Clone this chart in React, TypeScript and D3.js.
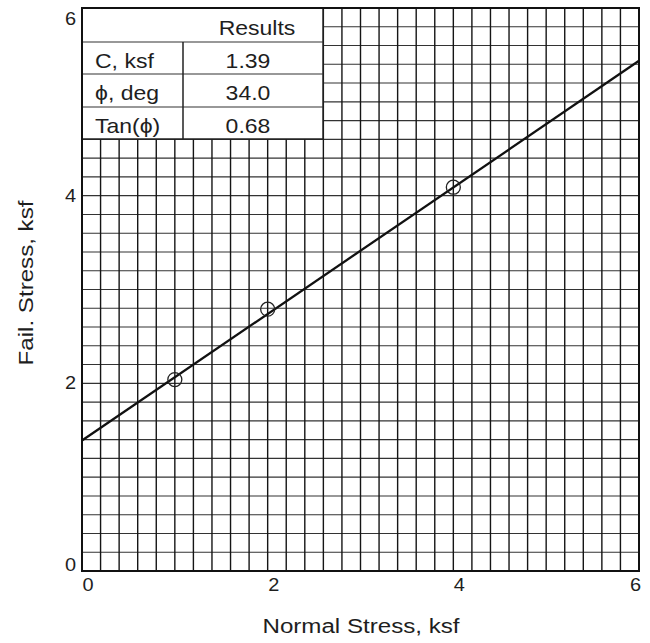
import React from "react";
import * as d3 from "d3";

const xTicks = [0, 2, 4, 6];
const yTicks = [0, 2, 4, 6];
const pointsX = [1, 2, 4];
const pointsY = [2.04, 2.79, 4.09];
const cohesion = 1.39;
const phiDeg = 34.0;
const tableHeader = "Results";
const tableLabels = ["C, ksf", "\u03D5, deg", "Tan(\u03D5)"];
const tableValues = ["1.39", "34.0", "0.68"];

const W = 650, H = 643;
const L = 82, R = 639, T = 8, B = 571;

function SText(props: { x: number; y: number; size: number; sx?: number; anchor?: string; rotate?: number; children: React.ReactNode }) {
  const { x, y, size, sx = 1.15, anchor = "start", rotate = 0, children } = props;
  return (
    <text
      transform={`translate(${x},${y}) rotate(${rotate}) scale(${sx},1)`}
      textAnchor={anchor}
      fontSize={size}
      fill="#1e1e1e"
    >
      {children}
    </text>
  );
}

export default function App() {
  const x = d3.scaleLinear().domain([0, 6]).range([L, R]);
  const y = d3.scaleLinear().domain([0, 6]).range([B, T]);
  const minor = d3.range(0, 31).map((i) => i * 0.2);
  const slope = Math.tan((phiDeg * Math.PI) / 180);
  const line = d3.line<number>().x((d) => x(d)).y((d) => y(cohesion + slope * d));
  const font = "Arial, 'Liberation Sans', Helvetica, sans-serif";
  const tl = L, tr = 323, tc = 183;
  const rowYs = [8, 42, 74, 107, 139];
  const baselines = [68, 100, 133];
  return (
    <svg width={W} height={H} style={{ position: "absolute", left: 0, top: 0, background: "#fff" }} fontFamily={font}>
      <rect x={0} y={0} width={W} height={H} fill="#fff" />
      {minor.map((v, i) => (
        <line key={"h" + i} x1={L} x2={R} y1={y(v)} y2={y(v)} stroke="#333" strokeWidth={1.1} />
      ))}
      {minor.map((v, i) => (
        <line key={"v" + i} x1={x(v)} x2={x(v)} y1={T} y2={B} stroke="#151515" strokeWidth={1.4} />
      ))}
      <path d={line([0, 6]) || ""} fill="none" stroke="#111" strokeWidth={2.3} />
      {pointsX.map((px, i) => (
        <circle key={"p" + i} cx={x(px)} cy={y(pointsY[i])} r={7} fill="none" stroke="#222" strokeWidth={1.3} />
      ))}
      {/* results table */}
      <rect x={tl} y={rowYs[0]} width={tr - tl} height={rowYs[4] - rowYs[0]} fill="#fff" stroke="#222" strokeWidth={1.5} />
      {rowYs.slice(1, 4).map((ry, i) => (
        <line key={"r" + i} x1={tl} x2={tr} y1={ry} y2={ry} stroke="#333" strokeWidth={1.2} />
      ))}
      <line x1={tc} x2={tc} y1={rowYs[1]} y2={rowYs[4]} stroke="#222" strokeWidth={1.5} />
      <SText x={257} y={35} size={20} anchor="middle">{tableHeader}</SText>
      {tableLabels.map((lab, i) => (
        <g key={"t" + i}>
          <SText x={95} y={baselines[i]} size={20}>{lab}</SText>
          <SText x={248} y={baselines[i]} size={20} anchor="middle">{tableValues[i]}</SText>
        </g>
      ))}
      <rect x={L} y={T} width={R - L} height={B - T} fill="none" stroke="#111" strokeWidth={2} />
      {xTicks.map((v, i) => (
        <SText key={"xt" + i} x={i === xTicks.length - 1 ? x(v) + 2 : x(v) + 6} y={B + 20} size={19} sx={1.05} anchor={i === xTicks.length - 1 ? "end" : "middle"}>{v}</SText>
      ))}
      {yTicks.map((v, i) => {
        let yy = y(v) + 6;
        if (i === 0) yy = y(v);
        if (i === yTicks.length - 1) yy = 25;
        return (
          <SText key={"yt" + i} x={L - 6} y={yy} size={19} sx={1.05} anchor="end">{v}</SText>
        );
      })}
      <SText x={361} y={633} size={21} anchor="middle">Normal Stress, ksf</SText>
      <SText x={33} y={283} size={21} anchor="middle" rotate={-90}>Fail. Stress, ksf</SText>
    </svg>
  );
}
